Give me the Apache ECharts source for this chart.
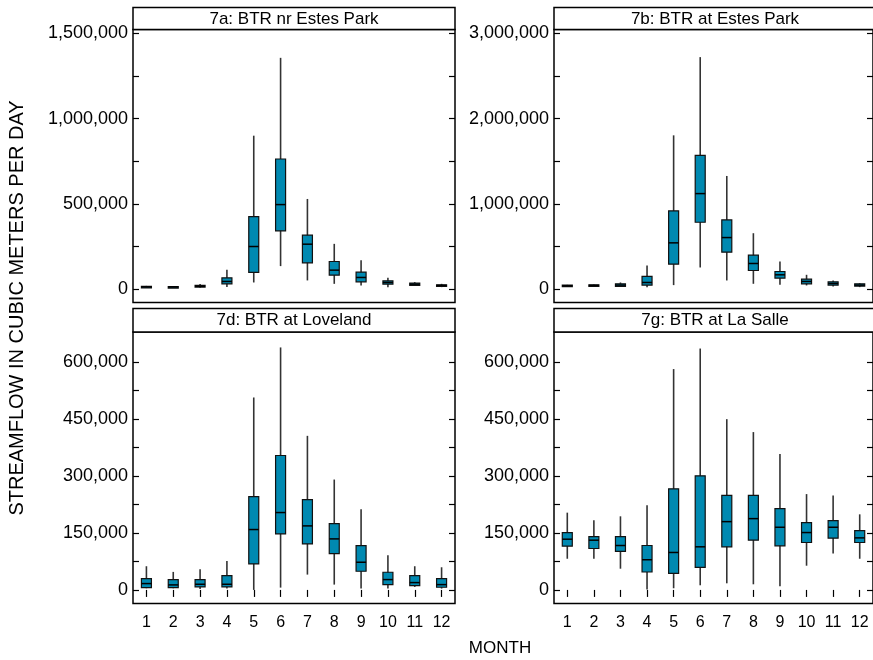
<!DOCTYPE html>
<html>
<head>
<meta charset="utf-8">
<script src="https://cdn.jsdelivr.net/npm/echarts@6/dist/echarts.min.js"></script>
<style>html,body{margin:0;padding:0;background:#fff;}#c{width:873px;height:660px;}</style>
</head>
<body>
<div id="c"></div>
<script>
var months = ['1','2','3','4','5','6','7','8','9','10','11','12'];

// 7a: BTR nr Estes Park
var aMin = [9000, 9000, 8000, 12000, 39000, 135000, 51000, 31000, 21500, 11700, 19500, 11700];
var aQ1  = [11000, 11000, 12000, 31000, 97700, 341800, 154300, 82000, 43000, 29300, 21500, 15600];
var aMed = [13000, 13000, 17000, 45000, 250000, 496000, 263700, 111300, 68400, 39000, 29000, 21500];
var aQ3  = [16000, 15000, 22000, 66400, 425800, 763600, 316400, 162100, 99600, 48800, 35000, 25000];
var aMax = [19000, 18000, 30000, 113000, 900300, 1357000, 529000, 265600, 170000, 66400, 41000, 31000];

// 7b: BTR at Estes Park
var bMin = [27000, 30000, 27000, 23400, 47000, 254000, 101600, 62500, 50800, 43000, 31000, 23400];
var bQ1  = [31000, 35000, 31000, 47000, 293000, 785000, 433600, 218700, 129000, 62500, 47000, 35000];
var bMed = [39000, 43000, 47000, 78000, 543000, 1121000, 605000, 300800, 168000, 90000, 66000, 47000];
var bQ3  = [47000, 50000, 62500, 148400, 918000, 1570000, 812000, 398400, 207000, 117000, 86000, 62500];
var bMax = [50000, 55000, 78000, 277000, 1804600, 2722500, 1328000, 656000, 324000, 168000, 101600, 70000];

// 7d: BTR at Loveland
var dMin = [4400, 4400, 2600, 3500, 0, 6100, 40300, 14000, 3500, 3500, 7900, 3500];
var dQ1  = [6100, 6100, 7900, 7900, 68400, 147400, 121000, 95600, 49100, 14000, 11400, 7000];
var dMed = [16700, 13200, 14900, 14900, 158800, 203500, 168400, 134200, 72800, 27200, 19300, 14000];
var dQ3  = [29800, 27200, 27200, 37700, 245600, 353500, 237700, 174500, 116700, 46500, 37700, 29800];
var dMax = [62300, 47400, 54400, 76300, 506100, 637700, 405200, 290300, 212300, 91200, 62300, 59600];

// 7g: BTR at La Salle
var gMin = [82000, 82000, 55800, 900, 4400, 12200, 17400, 14800, 9600, 63700, 95900, 82000];
var gQ1  = [115100, 109000, 101200, 47100, 43600, 59300, 113400, 130800, 116000, 124700, 136000, 124700];
var gMed = [133400, 130800, 116800, 79400, 98500, 113400, 179600, 187500, 164800, 150900, 164800, 136900];
var gQ3  = [150900, 140400, 140400, 116800, 266000, 300000, 248500, 248500, 213600, 177000, 182200, 156100];
var gMax = [203200, 183100, 193600, 222400, 580800, 634800, 449100, 415100, 357500, 252000, 248500, 198800];

// tick marks and tick labels
var aTicks  = [0, 250000, 500000, 750000, 1000000, 1250000, 1500000];
var aLabels = [0, 500000, 1000000, 1500000];
var bTicks  = [0, 500000, 1000000, 1500000, 2000000, 2500000, 3000000];
var bLabels = [0, 1000000, 2000000, 3000000];
var dTicks  = [0, 75000, 150000, 225000, 300000, 375000, 450000, 525000, 600000];
var dLabels = [0, 150000, 300000, 450000, 600000];
var gTicks  = [0, 75000, 150000, 225000, 300000, 375000, 450000, 525000, 600000];
var gLabels = [0, 150000, 300000, 450000, 600000];

var panelTitles = ['7a: BTR nr Estes Park', '7b: BTR at Estes Park', '7d: BTR at Loveland', '7g: BTR at La Salle'];
var yMins = [-78500, -157000, -35700, -35700];
var yMaxs = [1523300, 3046600, 678300, 678300];

var FONT = "'Liberation Sans', Arial, Helvetica, sans-serif";
var BOX_FILL = '#0089B1';

var panels = [
  {min:aMin,q1:aQ1,med:aMed,q3:aQ3,max:aMax,ticks:aTicks,labels:aLabels},
  {min:bMin,q1:bQ1,med:bMed,q3:bQ3,max:bMax,ticks:bTicks,labels:bLabels},
  {min:dMin,q1:dQ1,med:dMed,q3:dQ3,max:dMax,ticks:dTicks,labels:dLabels},
  {min:gMin,q1:gQ1,med:gMed,q3:gQ3,max:gMax,ticks:gTicks,labels:gLabels}
];

var layout = [
  {left:133, top:29.5, width:322, height:273, stripTop:7.5},
  {left:554, top:29.5, width:322, height:273, stripTop:7.5},
  {left:133, top:332, width:322, height:271.5, stripTop:308.5},
  {left:554, top:332, width:322, height:271.5, stripTop:308.5}
];

function fmt(v){ return Number(v).toLocaleString('en-US'); }

var grids=[], xAxes=[], yAxes=[], series=[], graphics=[];
panels.forEach(function(p, i){
  var L = layout[i];
  var bottomRow = i >= 2;
  grids.push({left:L.left, top:L.top, width:L.width, height:L.height, show:true, borderColor:'#000', borderWidth:1.5, backgroundColor:'transparent', containLabel:false});
  xAxes.push({
    type:'category', gridIndex:i, data:months, boundaryGap:true,
    axisLine:{show:false},
    axisTick:{show:bottomRow, alignWithLabel:true, inside:false, length:7, lineStyle:{color:'#000', width:1.2}},
    axisLabel:{show:bottomRow, color:'#000', fontSize:16, fontFamily:FONT, margin:11},
    splitLine:{show:false}
  });
  yAxes.push({
    type:'value', gridIndex:i, position:'left', min:yMins[i], max:yMaxs[i],
    axisLine:{show:false},
    axisTick:{show:true, inside:true, length:6, customValues:p.ticks, lineStyle:{color:'#000', width:1.2}},
    axisLabel:{color:'#000', fontSize:18, fontFamily:FONT, margin:5, customValues:p.labels, formatter:fmt},
    splitLine:{show:false}
  });
  yAxes.push({
    type:'value', gridIndex:i, position:'right', min:yMins[i], max:yMaxs[i],
    axisLine:{show:false},
    axisTick:{show:true, inside:true, length:6, customValues:p.ticks, lineStyle:{color:'#000', width:1.2}},
    axisLabel:{show:false},
    splitLine:{show:false}
  });
  var data = months.map(function(m, k){ return [k, p.min[k], p.q1[k], p.med[k], p.q3[k], p.max[k]]; });
  series.push({
    type:'custom', xAxisIndex:i, yAxisIndex:i*2, data:data, clip:false,
    encode:{x:0, y:[1,2,3,4,5]},
    renderItem:function(params, api){
      var x = api.value(0);
      var pMin = api.coord([x, api.value(1)]);
      var pQ1 = api.coord([x, api.value(2)]);
      var pMed = api.coord([x, api.value(3)]);
      var pQ3 = api.coord([x, api.value(4)]);
      var pMax = api.coord([x, api.value(5)]);
      var w = 10, cx = pMed[0];
      return {type:'group', children:[
        {type:'line', shape:{x1:cx, y1:pMax[1], x2:cx, y2:pMin[1]}, style:{stroke:'#333', lineWidth:1.6}},
        {type:'rect', shape:{x:cx-w/2, y:pQ3[1], width:w, height:Math.max(pQ1[1]-pQ3[1], 1.5)}, style:{fill:BOX_FILL, stroke:'#111', lineWidth:1.2}},
        {type:'line', shape:{x1:cx-w/2, y1:pMed[1], x2:cx+w/2, y2:pMed[1]}, style:{stroke:'#000', lineWidth:1.5}}
      ]};
    }
  });
  graphics.push({type:'rect', shape:{x:L.left, y:L.stripTop, width:L.width, height:L.top-L.stripTop}, style:{fill:'#fff', stroke:'#000', lineWidth:1.5}, z:10});
  graphics.push({type:'text', x:L.left+L.width/2, y:(L.stripTop+L.top)/2+0.5, style:{text:panelTitles[i], fill:'#000', font:'17px '+FONT, textAlign:'center', textVerticalAlign:'middle'}, z:11});
});

graphics.push({type:'text', x:17, y:308, rotation:Math.PI/2, style:{text:'STREAMFLOW IN CUBIC METERS PER DAY', fill:'#000', font:'20px '+FONT, textAlign:'center', textVerticalAlign:'middle'}});
graphics.push({type:'text', x:500, y:648, style:{text:'MONTH', fill:'#000', font:'17px '+FONT, textAlign:'center', textVerticalAlign:'middle'}});

var chart = echarts.init(document.getElementById('c'), null, {renderer:'canvas'});
chart.setOption({
  animation:false,
  backgroundColor:'#fff',
  grid:grids, xAxis:xAxes, yAxis:yAxes, series:series, graphic:graphics
});
</script>
</body>
</html>
